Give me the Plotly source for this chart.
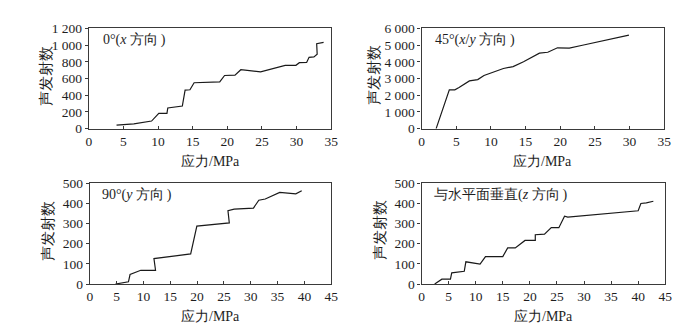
import plotly.graph_objects as go

# ---------------- data ----------------
x0 = [4.0, 6.5, 9.06, 10.1, 11.28, 11.4, 13.5, 13.9, 14.6, 15.2, 18.9, 19.6, 21.1, 21.95,
      24.8, 28.35, 29.9, 30.4, 31.45, 31.8, 32.5, 32.97, 32.9, 33.9]
y0 = [42, 57, 91, 183, 183, 248, 271, 461, 465, 549, 560, 636, 640, 705,
      680, 758, 758, 789, 792, 854, 858, 891, 1017, 1032]

x45 = [2.1, 4.0, 4.8, 5.4, 6.9, 8.1, 9.0, 10.4, 11.8, 13.2, 14.7, 17.0, 18.2, 19.6, 21.3,
       23.2, 25.1, 27.0, 28.6, 29.9]
y45 = [0, 2324, 2324, 2457, 2857, 2933, 3181, 3410, 3600, 3714, 4000, 4514, 4571, 4838, 4819,
       4990, 5162, 5371, 5505, 5600]

x90 = [4.78, 7.2, 7.5, 9.5, 12.25, 11.95, 18.8, 19.95, 26.0, 25.75, 26.9, 30.5, 31.5, 32.7,
       35.4, 38.4, 39.5]
y90 = [0, 11, 47, 68, 68, 126, 149, 287, 303, 363, 371, 376, 415, 421, 454, 447, 462]

xz = [2.42, 3.75, 5.33, 5.57, 7.88, 8.18, 10.8, 11.8, 15.0, 15.9, 17.3, 19.1, 21.0, 21.0,
      22.7, 23.95, 25.35, 26.4, 27.0, 40.0, 40.5, 41.5, 42.8]
yz = [0, 24, 24, 55, 63, 110, 99, 136, 136, 179, 179, 216, 216, 244,
      247, 280, 279, 336, 331, 363, 399, 402, 410]

xticks35 = [0, 5, 10, 15, 20, 25, 30, 35]
xticks45 = [0, 5, 10, 15, 20, 25, 30, 35, 40, 45]
yticks1200 = [0, 200, 400, 600, 800, 1000, 1200]
ylabels1200 = ["0", "200", "400", "600", "800", "1 000", "1 200"]
yticks6000 = [0, 1000, 2000, 3000, 4000, 5000, 6000]
ylabels6000 = ["0", "1 000", "2 000", "3 000", "4 000", "5 000", "6 000"]
yticks500 = [0, 100, 200, 300, 400, 500]

panel_labels = ["0°(<i>x</i> 方向\u2009)", "45°(<i>x</i>/<i>y</i> 方向\u2009)",
                "90°(<i>y</i> 方向\u2009)", "与水平面垂直(<i>z</i> 方向\u2009)"]
xtitle = "应力/MPa"
ytitle = "声发射数"

# ---------------- figure ----------------
W, H = 681, 333
FONT = "Liberation Serif, Times New Roman, serif"
TXT = "#1e1e1e"

def px(v):
    return v / W

def py(v):
    return 1 - v / H

panels = [
    dict(x=x0, y=y0, xd=(79, 325), yd=(14, 119), xr=35, xt=xticks35, yr=1200,
         yt=yticks1200, yl=ylabels1200, ytx=35, lab=(91, 26)),
    dict(x=x45, y=y45, xd=(416.7, 663), yd=(14, 119), xr=35, xt=xticks35, yr=6000,
         yt=yticks6000, yl=ylabels6000, ytx=368, lab=(428, 26)),
    dict(x=x90, y=y90, xd=(80, 325), yd=(176, 281.7), xr=45, xt=xticks45, yr=500,
         yt=yticks500, yl=[str(v) for v in yticks500], ytx=37, lab=(90, 188)),
    dict(x=xz, y=yz, xd=(416.7, 664), yd=(176, 281.7), xr=45, xt=xticks45, yr=500,
         yt=yticks500, yl=[str(v) for v in yticks500], ytx=374, lab=(427, 188)),
]

fig = go.Figure()
annotations = []
layout = {}
for i, p in enumerate(panels):
    n = "" if i == 0 else str(i + 1)
    fig.add_trace(go.Scatter(x=p["x"], y=p["y"], mode="lines",
                             line=dict(color="#1a1a1a", width=1.2),
                             xaxis="x" + n, yaxis="y" + n, showlegend=False,
                             hoverinfo="skip"))
    common = dict(showline=True, linecolor="#3a3a3a", linewidth=1.2, mirror=True,
                  ticklen=3, tickwidth=1, tickcolor="#3a3a3a",
                  showgrid=False, zeroline=False,
                  tickfont=dict(family=FONT, size=13.5, color=TXT))
    layout["xaxis" + n] = dict(common, domain=[px(p["xd"][0]), px(p["xd"][1])],
                               range=[0, p["xr"]], tickvals=p["xt"], ticks="inside",
                               anchor="y" + n)
    layout["yaxis" + n] = dict(common, domain=[py(p["yd"][1]), py(p["yd"][0])],
                               range=[0, p["yr"]], tickvals=p["yt"], ticktext=p["yl"],
                               ticks="outside", anchor="x" + n)
    # x title
    annotations.append(dict(text=xtitle, x=px((p["xd"][0] + p["xd"][1]) / 2),
                            y=py(p["yd"][1] + 34), xref="paper", yref="paper",
                            showarrow=False, xanchor="center", yanchor="middle",
                            font=dict(family=FONT, size=14, color=TXT)))
    # y title
    annotations.append(dict(text=ytitle, x=px(p["ytx"]),
                            y=py((p["yd"][0] + p["yd"][1]) / 2 - 3), xref="paper",
                            yref="paper", showarrow=False, textangle=-90,
                            xanchor="center", yanchor="middle",
                            font=dict(family=FONT, size=15, color=TXT)))
    # panel label
    annotations.append(dict(text=panel_labels[i], x=px(p["lab"][0]), y=py(p["lab"][1]),
                            xref="paper", yref="paper", showarrow=False,
                            xanchor="left", yanchor="middle",
                            font=dict(family=FONT, size=14, color=TXT)))

fig.update_layout(**layout)
fig.update_layout(width=W, height=H, margin=dict(l=0, r=0, t=0, b=0),
                  paper_bgcolor="white", plot_bgcolor="white",
                  annotations=annotations, showlegend=False)

fig.write_html("out.html")
